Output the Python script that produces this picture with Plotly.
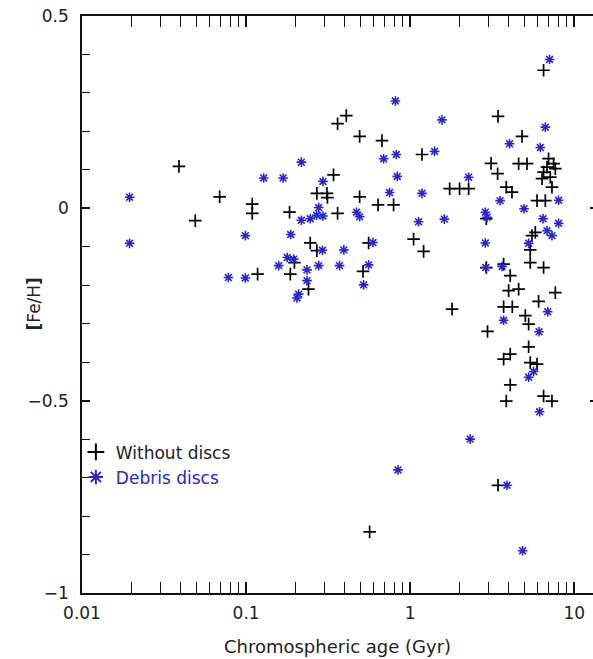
import plotly.graph_objects as go

# Without discs (black crosses): chromospheric age (Gyr), [Fe/H]
nodisc_age = [0.039, 0.049, 0.069, 0.109, 0.109, 0.1175, 0.184, 0.186, 0.197, 0.240,
              0.246, 0.270, 0.270, 0.311, 0.313, 0.341, 0.361, 0.408, 0.361, 0.492,
              0.492, 0.516, 0.558, 0.637, 0.673, 0.792, 0.566, 1.049, 1.18, 1.207,
              1.74, 2.00, 2.27, 1.80, 2.91, 2.91, 3.11, 3.41, 3.43, 2.96,
              3.71, 3.85, 4.17, 4.07, 3.98, 4.58, 3.71, 4.19, 4.07, 3.71,
              4.07, 3.85, 3.43, 4.58, 5.15, 4.80, 5.03, 5.27, 5.27, 5.39,
              5.93, 5.39, 5.39, 5.52, 5.79, 5.93, 6.66, 6.50, 6.06, 7.66,
              6.50, 7.31, 6.50, 6.97, 7.48, 6.82, 7.66, 6.50, 6.36, 7.14, 7.31]
nodisc_feh = [0.109, -0.032, 0.030, 0.011, -0.013, -0.171, -0.010, -0.171, -0.141, -0.210,
              -0.090, -0.110, 0.039, 0.039, 0.028, 0.087, 0.220, 0.241, -0.013, 0.187,
              0.030, -0.164, -0.090, 0.009, 0.176, 0.009, -0.841, -0.080, 0.140, -0.112,
              0.051, 0.051, 0.051, -0.262, -0.027, -0.154, 0.117, 0.090, 0.239, -0.320,
              -0.145, 0.055, 0.042, -0.175, -0.214, -0.210, -0.256, -0.256, -0.379, -0.392,
              -0.459, -0.501, -0.720, 0.116, 0.116, 0.187, -0.279, -0.301, -0.360, -0.401,
              -0.405, -0.108, -0.141, -0.071, -0.0625, 0.020, 0.020, -0.154, -0.242, -0.219,
              -0.488, -0.501, 0.359, 0.129, 0.116, 0.107, 0.103, 0.094, 0.077, 0.081, 0.055]

# Debris discs (blue asterisks)
disc_age = [0.0195, 0.0195, 0.078, 0.099, 0.099, 0.128, 0.168, 0.217, 0.294, 0.187,
            0.178, 0.195, 0.158, 0.209, 0.204, 0.235, 0.235, 0.277, 0.217, 0.246,
            0.269, 0.294, 0.277, 0.292, 0.371, 0.394, 0.471, 0.492, 0.520, 0.558,
            0.593, 0.689, 0.749, 0.812, 0.823, 0.834, 0.843, 1.125, 1.18, 1.408,
            1.562, 1.614, 2.27, 2.32, 2.87, 2.94, 2.87, 2.89, 3.63, 3.53,
            3.71, 3.89, 4.03, 4.84, 4.94, 5.27, 5.27, 5.65, 6.10, 6.15,
            6.21, 6.66, 6.45, 6.82, 6.89, 7.07, 7.31, 8.02, 8.02]
disc_feh = [0.029, -0.091, -0.180, -0.181, -0.071, 0.079, 0.079, 0.120, 0.070, -0.068,
            -0.128, -0.132, -0.149, -0.223, -0.233, -0.160, -0.188, 0.002, -0.031, -0.027,
            -0.018, -0.020, -0.149, -0.109, -0.149, -0.108, -0.010, -0.022, -0.199, -0.147,
            -0.089, 0.129, 0.041, 0.279, 0.140, 0.083, -0.680, -0.035, 0.039, 0.148,
            0.230, -0.028, 0.081, -0.600, -0.010, -0.023, -0.090, -0.154, -0.151, 0.020,
            -0.291, -0.720, 0.168, -0.890, -0.001, -0.091, -0.439, -0.424, -0.321, -0.529,
            0.158, 0.211, -0.027, -0.058, -0.269, 0.387, -0.071, 0.021, -0.039]

x_tickvals = [0.01, 0.1, 1, 10]
x_ticktext = ["0.01", "0.1", "1", "10"]
y_tickvals = [-1, -0.5, 0, 0.5]
y_ticktext = ["\u22121", "\u22120.5", "0", "0.5"]
Y_RANGE = [-1, 0.5]

BLUE = "#2626d6"
FONT = "DejaVu Sans"
TXT = "#222222"

fig = go.Figure()
fig.add_trace(go.Scatter(
    x=nodisc_age, y=nodisc_feh, mode="markers", name="Without discs",
    legendgroup="a",
    marker=dict(symbol="cross-thin", size=9, color="black",
                line=dict(color="black", width=1.7)),
))
fig.add_trace(go.Scatter(
    x=disc_age, y=disc_feh, mode="markers", yaxis="y2",
    name="<span style='color:%s'>Debris discs</span>" % BLUE,
    legendgroup="b",
    marker=dict(symbol="asterisk", size=8, color=BLUE,
                line=dict(color=BLUE, width=1.6)),
))

minor_x = [m * 10.0 ** e for e in (-2, -1, 0) for m in range(2, 10)]

fig.update_layout(
    width=593, height=659,
    margin=dict(l=82, r=0, t=16, b=66),
    paper_bgcolor="white", plot_bgcolor="white",
    font=dict(family=FONT, size=17, color=TXT),
    showlegend=True,
    legend=dict(x=-0.012, y=0.275, xanchor="left", yanchor="top",
                bgcolor="rgba(0,0,0,0)", font=dict(family=FONT, size=17, color=TXT),
                traceorder="grouped", tracegroupgap=0, itemsizing="constant"),
    xaxis=dict(
        type="log", range=[-2, 1.114], showgrid=False, zeroline=False,
        showline=True, linecolor="#111", linewidth=1.6, mirror="allticks",
        ticks="inside", ticklen=11, tickwidth=1.5, tickcolor="#111",
        tickmode="array", tickvals=x_tickvals, ticktext=x_ticktext,
        ticklabelstandoff=4,
        tickfont=dict(family=FONT, size=17, color=TXT),
        minor=dict(ticks="inside", ticklen=6, tickwidth=1.3, tickcolor="#111",
                   tickmode="array", tickvals=minor_x, showgrid=False),
        title=dict(text="Chromospheric age (Gyr)", standoff=18,
                   font=dict(family=FONT, size=18, color=TXT)),
    ),
    yaxis=dict(
        range=Y_RANGE, showgrid=False, zeroline=False,
        showline=True, linecolor="#111", linewidth=1.6, mirror=False,
        ticks="inside", ticklen=8, tickwidth=1.5, tickcolor="#111",
        tickmode="array", tickvals=y_tickvals, ticktext=y_ticktext,
        ticklabelstandoff=8,
        tickfont=dict(family=FONT, size=17, color=TXT),
        minor=dict(ticks="inside", ticklen=8, tickwidth=1.3, tickcolor="#111",
                   dtick=0.1, showgrid=False),
    ),
    yaxis2=dict(
        range=Y_RANGE, overlaying="y", side="right", showgrid=False,
        zeroline=False, showline=False, showticklabels=False,
        ticks="inside", ticklen=3, tickwidth=1.5, tickcolor="#111",
        tickmode="array", tickvals=y_tickvals,
    ),
    annotations=[dict(
        text="<b>[</b>Fe/H<b>]</b>", textangle=-90, showarrow=False,
        xref="paper", yref="paper", x=(33 - 82) / 511, y=0.5,
        xanchor="center", yanchor="middle",
        font=dict(family=FONT, size=17, color=TXT),
    )],
)

fig.write_html("out.html")
